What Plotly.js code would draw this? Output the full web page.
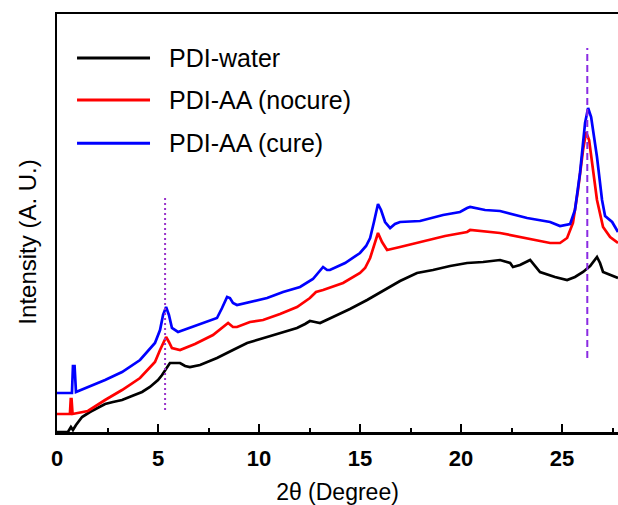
<!DOCTYPE html>
<html>
<head>
<meta charset="utf-8">
<script src="https://cdn.plot.ly/plotly-3.0.1.min.js"></script>
<style>html,body{margin:0;padding:0;background:#fff;overflow:hidden}#chart{width:618px;height:505px}</style>
</head>
<body>
<div id="chart"></div>
<script>
// Series names
const seriesNames = ["PDI-water", "PDI-AA (nocure)", "PDI-AA (cure)"];
const seriesColors = ["#000000", "#ff0000", "#0000ff"];

// PDI-water (2θ in degrees, intensity in arbitrary units)
const waterX = [0,0.54,0.69,0.79,0.94,1.24,1.63,2.03,2.38,2.77,3.22,3.71,4.21,4.60,5.0,5.20,5.35,5.59,5.84,6.09,6.34,6.58,7.08,7.92,8.71,9.41,10.40,11.04,11.88,12.28,12.52,12.77,13.02,13.66,14.50,15.35,16.24,16.98,17.82,18.61,19.46,20.30,21.09,21.93,22.43,22.57,22.92,23.42,23.91,24.65,25.25,25.64,26.04,26.39,26.73,26.88,27.03,27.38,27.77];
const waterY = [0,0,5,2,7,15,20,24,28,30,32,36,40,45,52,57,62,69,69,69,66,65,67,74,82,89,95,99,104,108,111,110,109,115,123,132,142,151,159,162,166,169,170,172,169,165,167,172,160,155,152,155,160,166,175,169,160,157,154];

// PDI-AA (nocure)
const nocureX = [0,0.64,0.68,0.72,0.77,1.53,2.38,3.22,4.11,4.85,5.10,5.30,5.40,5.54,5.69,6.09,6.83,7.72,8.17,8.47,8.71,8.91,9.55,10.20,11.04,11.88,12.52,12.82,13.17,14.16,15.0,15.25,15.50,15.69,15.89,16.09,16.34,16.98,18.32,19.21,20.30,20.45,21.93,23.27,24.41,24.90,25.25,25.54,25.79,26.04,26.19,26.34,26.44,26.73,27.03,27.38,27.77];
const nocureY = [18,18,33,33,18,21,32,42,54,70,82,92,95,90,84,82,88,97,104,109,105,105,110,112,118,125,134,140,142,149,159,164,174,187,199,190,182,185,192,196,200,202,199,194,189,189,194,209,242,282,300,292,275,232,205,195,189];

// PDI-AA (cure)
const cureX = [0,0.74,0.79,0.87,0.94,1.53,2.38,3.22,4.11,4.85,5.10,5.25,5.40,5.54,5.69,5.99,6.83,7.92,8.17,8.42,8.56,8.71,8.91,9.55,10.40,11.19,12.03,12.67,13.02,13.17,13.37,13.51,14.26,15.0,15.30,15.50,15.69,15.89,16.04,16.24,16.49,16.73,16.98,17.97,19.11,19.95,20.30,20.45,21.19,21.93,23.27,24.41,24.90,25.40,25.64,25.89,26.14,26.29,26.44,26.73,26.98,27.13,27.48,27.77];
const cureY = [39,39,66,66,40,45,52,60,72,89,102,117,125,117,104,100,106,114,124,135,134,129,127,130,134,140,145,153,162,165,162,162,169,179,186,194,210,228,222,210,204,208,210,211,217,220,224,225,222,221,214,210,206,208,222,259,309,324,315,275,232,216,210,200];

// Reference peak markers (2θ) and their vertical extents
const peakDotted = {x: 5.35, y0: 22, y1: 235};
const peakDashed = {x: 26.25, y0: 74, y1: 384};

// Tick labels
const xTickVals = [0, 5, 10, 15, 20, 25];
const xTickText = ["0", "5", "10", "15", "20", "25"];

const FONT = "Liberation Sans, Arial, sans-serif";
const xs = [waterX, nocureX, cureX];
const ys = [waterY, nocureY, cureY];

const traces = xs.map((x, i) => ({
  x: x, y: ys[i], type: "scatter", mode: "lines", name: seriesNames[i],
  line: {color: seriesColors[i], width: 2.7}, showlegend: false, hoverinfo: "skip"
}));

// manual legend (long line samples like the reference)
const legendRowsY = [0.895, 0.794, 0.691];
const shapes = [];
const annotations = [];
seriesNames.forEach((n, i) => {
  shapes.push({type: "line", xref: "paper", yref: "paper", x0: 0.0357, x1: 0.1658,
    y0: legendRowsY[i], y1: legendRowsY[i], line: {color: seriesColors[i], width: 3}});
  annotations.push({xref: "paper", yref: "paper", x: 0.196, y: legendRowsY[i], xanchor: "left",
    yanchor: "middle", text: n, showarrow: false, font: {family: FONT, size: 25, color: "#000"}});
});
shapes.push({type: "line", xref: "x", yref: "y", x0: peakDotted.x, x1: peakDotted.x,
  y0: peakDotted.y0, y1: peakDotted.y1, line: {color: "#9933cc", width: 2, dash: "2px,3px"}});
shapes.push({type: "line", xref: "x", yref: "y", x0: peakDashed.x, x1: peakDashed.x,
  y0: peakDashed.y0, y1: peakDashed.y1, line: {color: "#8a2be2", width: 2, dash: "7px,4px"}});

// Y axis title placed like the reference (slightly below axis center)
annotations.push({xref: "paper", yref: "paper", x: -0.052, y: 0.455, xanchor: "center", yanchor: "middle",
  text: "Intensity (A. U.)", textangle: -90, showarrow: false, font: {family: FONT, size: 24, color: "#000"}});

const layout = {
  width: 618, height: 505,
  margin: {l: 57, r: 0, t: 14, b: 73},
  paper_bgcolor: "#fff", plot_bgcolor: "#fff",
  showlegend: false,
  xaxis: {
    range: [0, 27.77], showgrid: false, zeroline: false,
    showline: true, linecolor: "#000", linewidth: 2.5, mirror: true,
    ticks: "inside", ticklen: 8, tickwidth: 2, tickcolor: "#000",
    tickvals: xTickVals, ticktext: xTickText, ticklabelstandoff: 5,
    tickfont: {family: FONT, size: 22, color: "#000", weight: "bold"},
    minor: {dtick: 2.5, tick0: 0, ticks: "inside", ticklen: 4, tickwidth: 2, tickcolor: "#000", showgrid: false},
    title: {text: "2θ (Degree)", font: {family: FONT, size: 23, color: "#000"}, standoff: 18},
    automargin: false
  },
  yaxis: {
    range: [0, 418], showgrid: false, zeroline: false,
    showline: true, linecolor: "#000", linewidth: 2.5, mirror: false,
    ticks: "", showticklabels: false, automargin: false
  },
  shapes: shapes,
  annotations: annotations
};

Plotly.newPlot("chart", traces, layout, {displayModeBar: false, staticPlot: true});
</script>
</body>
</html>
